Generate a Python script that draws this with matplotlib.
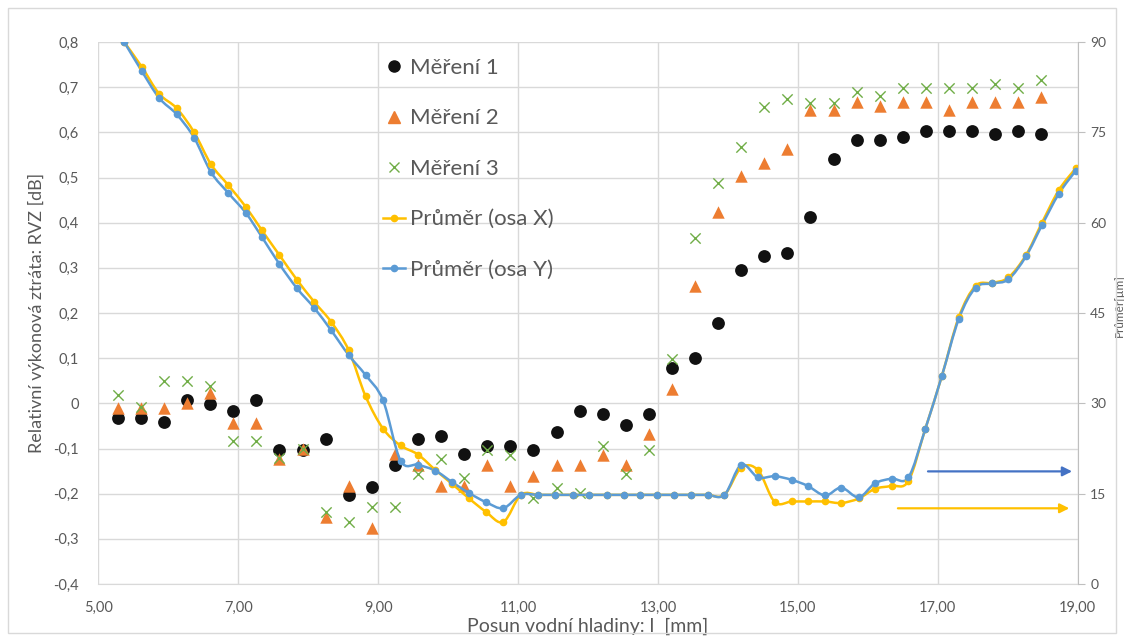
import matplotlib
matplotlib.use("Agg")
import matplotlib.pyplot as plt
from matplotlib.path import Path
from matplotlib.patches import PathPatch, Rectangle
from matplotlib.lines import Line2D
from matplotlib.ticker import FixedLocator, FuncFormatter

plt.rcParams['font.family'] = ['Lato', 'DejaVu Sans']

# ---- data ----
x_meas = [5.28, 5.61, 5.94, 6.27, 6.60, 6.93, 7.26, 7.59, 7.92, 8.25, 8.58, 8.91, 9.24, 9.57,
          9.90, 10.23, 10.56, 10.89, 11.22, 11.55, 11.88, 12.21, 12.54, 12.87, 13.20, 13.53,
          13.86, 14.19, 14.52, 14.85, 15.18, 15.51, 15.84, 16.17, 16.50, 16.83, 17.16, 17.49,
          17.82, 18.15, 18.48]
mereni1 = [-0.032, -0.032, -0.041, 0.007, -0.002, -0.017, 0.007, -0.104, -0.104, -0.080,
           -0.203, -0.186, -0.137, -0.080, -0.072, -0.112, -0.095, -0.095, -0.104, -0.064,
           -0.016, -0.024, -0.048, -0.024, 0.078, 0.100, 0.177, 0.296, 0.326, 0.333, 0.412,
           0.541, 0.582, 0.582, 0.589, 0.602, 0.602, 0.602, 0.596, 0.602, 0.596]
mereni2 = [-0.011, -0.011, -0.011, 0.000, 0.022, -0.044, -0.044, -0.124, -0.102, -0.251,
           -0.183, -0.275, -0.113, -0.137, -0.182, -0.182, -0.137, -0.182, -0.160, -0.137,
           -0.137, -0.114, -0.137, -0.069, 0.032, 0.259, 0.423, 0.504, 0.533, 0.562, 0.650,
           0.650, 0.668, 0.659, 0.668, 0.668, 0.650, 0.668, 0.668, 0.668, 0.678]
mereni3 = [0.018, -0.009, 0.050, 0.050, 0.038, -0.084, -0.084, -0.122, -0.102, -0.241,
           -0.262, -0.230, -0.230, -0.157, -0.124, -0.166, -0.104, -0.115, -0.209, -0.188,
           -0.198, -0.094, -0.157, -0.104, 0.098, 0.367, 0.487, 0.568, 0.655, 0.673, 0.664,
           0.664, 0.690, 0.681, 0.699, 0.699, 0.699, 0.699, 0.708, 0.699, 0.716]

x_prumer = [5.37, 5.62, 5.87, 6.12, 6.37, 6.61, 6.86, 7.11, 7.34, 7.59, 7.84, 8.09, 8.33,
            8.58, 8.82, 9.07, 9.32, 9.57, 9.82, 10.06, 10.30, 10.54, 10.79, 11.04, 11.29,
            11.53, 11.78, 12.02, 12.27, 12.51, 12.75, 12.99, 13.23, 13.47, 13.71, 13.95,
            14.19, 14.43, 14.67, 14.91, 15.14, 15.39, 15.62, 15.87, 16.10, 16.34, 16.58,
            16.82, 17.06, 17.30, 17.54, 17.78, 18.01, 18.26, 18.49, 18.73, 18.97]
prumer_x = [90.0, 85.9, 81.4, 79.0, 75.0, 69.7, 66.2, 62.6, 58.7, 54.6, 50.5, 46.8, 43.5,
            38.8, 31.2, 25.8, 23.0, 21.5, 18.9, 16.6, 14.2, 12.0, 10.3, 14.8, 14.8,
            14.8, 14.8, 14.8, 14.8, 14.8, 14.8, 14.8, 14.8, 14.8, 14.8, 14.8,
            19.3, 18.9, 13.6, 13.7, 13.7, 13.7, 13.45, 14.2, 15.8, 16.3, 17.1,
            25.7, 34.6, 44.3, 49.5, 50.0, 50.9, 54.6, 60.0, 65.4, 69.0]
prumer_y = [90.0, 85.2, 80.7, 78.0, 74.1, 68.4, 64.9, 61.6, 57.6, 53.1, 49.1, 45.8, 42.1,
            38.0, 34.7, 30.5, 20.5, 19.8, 18.8, 16.9, 15.1, 13.6, 12.6, 14.8, 14.8,
            14.8, 14.8, 14.8, 14.8, 14.8, 14.8, 14.8, 14.8, 14.8, 14.8, 14.8,
            19.8, 17.7, 17.9, 17.3, 16.3, 14.7, 16.0, 14.4, 16.7, 17.5, 17.7,
            25.7, 34.6, 44.0, 49.2, 49.9, 50.6, 54.4, 59.6, 64.8, 68.6]

x_ticks = [5, 7, 9, 11, 13, 15, 17, 19]
left_ticks = [-0.4, -0.3, -0.2, -0.1, 0, 0.1, 0.2, 0.3, 0.4, 0.5, 0.6, 0.7, 0.8]
right_ticks = [0, 15, 30, 45, 60, 75, 90]

# arrow annotations (right-axis units)
arrow_blue = (16.86, 18.92, 18.7)
arrow_yellow = (16.43, 18.88, 12.57)

C_TEXT = '#595959'
C_GRID = '#D9D9D9'
C_BLACK = '#111111'
C_ORANGE = '#ED7D31'
C_GREEN = '#70AD47'
C_YELLOW = '#FFC000'
C_BLUE = '#5B9BD5'
C_ARROW_BLUE = '#4472C4'


def smooth_path(xs, ys):
    pts = list(zip(xs, ys))
    n = len(pts)
    verts = [pts[0]]
    codes = [Path.MOVETO]
    for i in range(n - 1):
        p0 = pts[i - 1] if i > 0 else pts[i]
        p1 = pts[i]
        p2 = pts[i + 1]
        p3 = pts[i + 2] if i + 2 < n else pts[i + 1]
        c1 = (p1[0] + (p2[0] - p0[0]) / 6.0, p1[1] + (p2[1] - p0[1]) / 6.0)
        c2 = (p2[0] - (p3[0] - p1[0]) / 6.0, p2[1] - (p3[1] - p1[1]) / 6.0)
        verts += [c1, c2, p2]
        codes += [Path.CURVE4, Path.CURVE4, Path.CURVE4]
    return Path(verts, codes)


fig = plt.figure(figsize=(11.24, 6.41), dpi=100)
fig.patches.append(Rectangle((8 / 1124, 8 / 641), 1 - 16 / 1124, 1 - 16 / 641,
                             transform=fig.transFigure, fill=False,
                             edgecolor=C_GRID, lw=1.0))

ax = fig.add_axes([98.3 / 1124, 1 - 584 / 641, (1077.7 - 98.3) / 1124, (584 - 42) / 641])
ax.set_xlim(5, 19)
ax.set_ylim(-0.4, 0.8)
ax.xaxis.set_major_locator(FixedLocator(x_ticks))
ax.yaxis.set_major_locator(FixedLocator(left_ticks))
ax.xaxis.set_major_formatter(FuncFormatter(lambda v, p: f"{v:.2f}".replace('.', ',')))
ax.yaxis.set_major_formatter(FuncFormatter(
    lambda v, p: '0' if abs(v) < 1e-9 else f"{v:.1f}".replace('.', ',')))
ax.grid(True, color=C_GRID, lw=1.0)
ax.set_axisbelow(True)
for s in ['top', 'left', 'right']:
    ax.spines[s].set_visible(False)
ax.spines['bottom'].set_color(C_GRID)
ax.tick_params(axis='both', length=0, colors=C_TEXT, labelsize=10.5)
ax.tick_params(axis='y', pad=14)
ax.tick_params(axis='x', pad=12)
ax.set_xlabel('Posun vodní hladiny: l  [mm]', fontsize=14, color=C_TEXT, labelpad=2)
ax.set_ylabel('Relativní výkonová ztráta: RVZ [dB]', fontsize=13, color=C_TEXT, labelpad=6)

ax.scatter(x_meas, mereni1, s=85, marker='o', color=C_BLACK, linewidths=0, zorder=3)
ax.scatter(x_meas, mereni2, s=80, marker='^', color=C_ORANGE, linewidths=0, zorder=3)
ax.scatter(x_meas, mereni3, s=55, marker='x', color=C_GREEN, linewidths=1.0, zorder=3)

ax2 = ax.twinx()
ax2.set_ylim(0, 90)
ax2.yaxis.set_major_locator(FixedLocator(right_ticks))
for s in ['top', 'left', 'bottom']:
    ax2.spines[s].set_visible(False)
ax2.spines['right'].set_color('#BFBFBF')
ax2.tick_params(axis='y', length=5, color='#BFBFBF', labelcolor=C_TEXT, labelsize=10, pad=4)
ax2.set_ylabel('Průměr[µm]', fontsize=8.5, color=C_TEXT)
ax2.yaxis.set_label_coords((1114 - 98.3) / 979.4, (584 - 306) / 542)

for xs, ys, col in [(x_prumer, prumer_x, C_YELLOW), (x_prumer, prumer_y, C_BLUE)]:
    ax2.add_patch(PathPatch(smooth_path(xs, ys), fill=False, edgecolor=col, lw=1.8,
                            capstyle='round', joinstyle='round'))
    ax2.plot(xs, ys, linestyle='none', marker='o', ms=4.5, color=col)

for (x0, x1, yv), col in [(arrow_blue, C_ARROW_BLUE), (arrow_yellow, C_YELLOW)]:
    ax2.annotate('', xy=(x1, yv), xytext=(x0, yv),
                 arrowprops=dict(arrowstyle='-|>', color=col, lw=1.6,
                                 mutation_scale=14, shrinkA=0, shrinkB=0))

handles = [
    Line2D([], [], linestyle='none', marker='o', ms=8, color=C_BLACK),
    Line2D([], [], linestyle='none', marker='^', ms=8, color=C_ORANGE),
    Line2D([], [], linestyle='none', marker='x', ms=7, color=C_GREEN, mew=1.0),
    Line2D([], [], color=C_YELLOW, lw=1.8, marker='o', ms=4.5),
    Line2D([], [], color=C_BLUE, lw=1.8, marker='o', ms=4.5),
]
labels = ['Měření 1', 'Měření 2', 'Měření 3', 'Průměr (osa X)', 'Průměr (osa Y)']
leg = ax2.legend(handles, labels, loc='upper left',
                 bbox_to_anchor=(383 / 1124, 1 - 58 / 641),
                 bbox_transform=fig.transFigure, frameon=False, fontsize=16,
                 labelspacing=1.37, handlelength=1.0, handletextpad=0.2,
                 borderpad=0, borderaxespad=0)
for t in leg.get_texts():
    t.set_color(C_TEXT)

fig.savefig('out.png', dpi=100)
